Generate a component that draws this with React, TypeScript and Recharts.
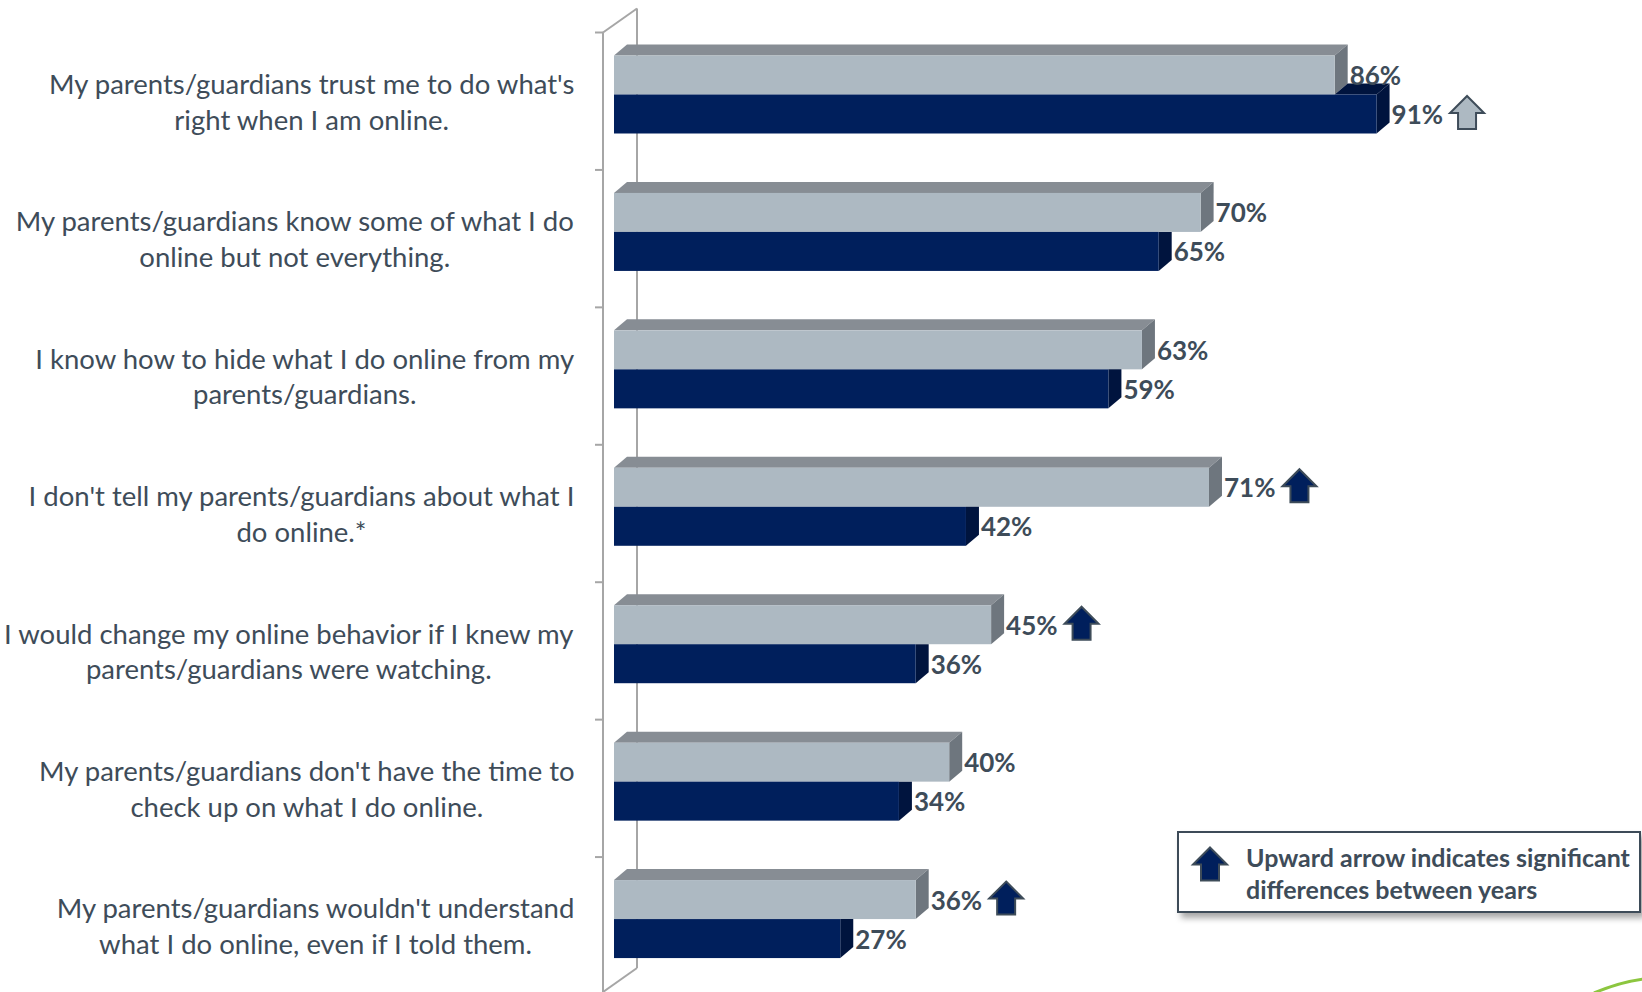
import React from 'react';
import { BarChart, Bar, XAxis, YAxis, LabelList } from 'recharts';

const categories = [
  "My parents/guardians trust me to do what's\nright when I am online.",
  'My parents/guardians know some of what I do\nonline but not everything.',
  'I know how to hide what I do online from my\nparents/guardians.',
  "I don't tell my parents/guardians about what I\ndo online.*",
  'I would change my online behavior if I knew my\nparents/guardians were watching.',
  "My parents/guardians don't have the time to\ncheck up on what I do online.",
  "My parents/guardians wouldn't understand\nwhat I do online, even if I told them.",
];
const greyValues = [86, 70, 63, 71, 45, 40, 36];
const navyValues = [91, 65, 59, 42, 36, 34, 27];
// significance arrows shown next to a value label
const greyArrows = [false, false, false, true, true, false, true];
const navyArrows = [true, false, false, false, false, false, false];

const rows = categories.map((label, i) => ({
  label,
  grey: greyValues[i],
  navy: navyValues[i],
  greyArrow: greyArrows[i],
  navyArrow: navyArrows[i],
}));

const W = 1642;
const H = 992;
const MARGIN = { top: 25.5, right: 190, bottom: 4.5, left: 0 };
const AXIS_W = 614;
const BAND = (H - MARGIN.top - MARGIN.bottom) / categories.length;
const SHIFT = 7; // 3d perspective pushes the bars above the band centre
const DX = 13;
const DY = 11;

const TEXT = '#3e4c59';
const GREY = { front: '#adb9c2', top: '#878d94', side: '#6e767e' };
const NAVY = { front: '#001f5c', top: '#00143e', side: '#00143e' };
const FONT = 'Lato, "Open Sans", sans-serif';
const CAT_SIZE = 27.5;

let ctx: CanvasRenderingContext2D | null = null;
function textWidth(s: string, font: string) {
  if (!ctx) ctx = document.createElement('canvas').getContext('2d');
  if (!ctx) return s.length * 12;
  ctx.font = font;
  return ctx.measureText(s).width;
}

function UpArrow({ x, cy, fill }: { x: number; cy: number; fill: string }) {
  const t = cy - 16.5;
  const pts = [
    [x + 17, t],
    [x + 34, t + 17],
    [x + 26, t + 17],
    [x + 26, t + 33],
    [x + 8, t + 33],
    [x + 8, t + 17],
    [x, t + 17],
  ]
    .map((p) => p.join(','))
    .join(' ');
  return <polygon points={pts} fill={fill} stroke={TEXT} strokeWidth={2} strokeLinejoin="miter" />;
}

function CategoryTick(props: any) {
  const { y, payload } = props;
  const lines: string[] = String(payload.value).split('\n');
  const font = `${CAT_SIZE}px ${FONT}`;
  const maxW = Math.max(...lines.map((l) => textWidth(l, font)));
  const cx = 575 - maxW / 2;
  const cy = y + SHIFT;
  const tickY = cy - BAND / 2;
  return (
    <g>
      <line x1={595} x2={603} y1={tickY} y2={tickY} stroke="#a6a6a6" strokeWidth={2} />
      {lines.map((l, i) => (
        <text
          key={i}
          x={cx}
          y={cy + (i - (lines.length - 1) / 2) * 35.6}
          textAnchor="middle"
          dominantBaseline="central"
          fontFamily={FONT}
          fontSize={CAT_SIZE}
          fill={TEXT}
        >
          {l}
        </text>
      ))}
    </g>
  );
}

function GreyShape(props: any) {
  const { x, y, width, height } = props;
  return (
    <g>
      <polygon
        points={`${x},${y} ${x + DX},${y - DY} ${x + width + DX},${y - DY} ${x + width},${y}`}
        fill={GREY.top}
      />
      <polygon
        points={`${x + width},${y} ${x + width + DX},${y - DY} ${x + width + DX},${y + height - DY} ${x + width},${y + height}`}
        fill={GREY.side}
      />
      <rect x={x} y={y} width={width} height={height} fill={GREY.front} />
    </g>
  );
}

function NavyShape(props: any) {
  const { x, y, width, height, payload } = props;
  const gw = (width * payload.grey) / payload.navy;
  const longer = width > gw;
  return (
    <g>
      {longer && (
        <polygon
          points={`${x + gw},${y} ${x + width},${y} ${x + width + DX},${y - DY} ${x + gw + DX},${y - DY}`}
          fill={NAVY.top}
        />
      )}
      <polygon
        points={
          longer
            ? `${x + width},${y} ${x + width + DX},${y - DY} ${x + width + DX},${y + height - DY} ${x + width},${y + height}`
            : `${x + width},${y} ${x + width + DX},${y} ${x + width + DX},${y + height - DY} ${x + width},${y + height}`
        }
        fill={NAVY.side}
      />
      <rect x={x} y={y} width={width} height={height} fill={NAVY.front} />
    </g>
  );
}

function makeValueLabel(flags: boolean[], arrowFill: string) {
  return function ValueLabel(props: any) {
    const { x, y, width, height, value, index } = props;
    const label = `${value}%`;
    const font = `bold 26px ${FONT}`;
    const lx = x + width + 15;
    const cy = y + height / 2;
    const tw = textWidth(label, font);
    return (
      <g>
        <text
          x={lx}
          y={cy}
          dominantBaseline="central"
          fontFamily={FONT}
          fontWeight="bold"
          fontSize={26}
          fill={TEXT}
        >
          {label}
        </text>
        {flags[index] && <UpArrow x={lx + tw + 7} cy={cy - 1.5} fill={arrowFill} />}
      </g>
    );
  };
}

const GreyLabel = makeValueLabel(greyArrows, NAVY.front);
const NavyLabel = makeValueLabel(navyArrows, GREY.front);

function AxisFrame() {
  const top = MARGIN.top + SHIFT;
  return (
    <svg width={W} height={H} style={{ position: 'absolute', left: 0, top: 0 }}>
      <g stroke="#a6a6a6" strokeWidth={2} fill="none">
        <line x1={603} y1={top} x2={603} y2={H} />
        <line x1={603} y1={top} x2={637} y2={top - 24} />
        <line x1={637} y1={top - 24} x2={637} y2={968} />
        <line x1={637} y1={968} x2={603} y2={992} />
      </g>
    </svg>
  );
}

function Overlay() {
  return (
    <svg width={W} height={H} style={{ position: 'absolute', left: 0, top: 0, pointerEvents: 'none' }}>
      <defs>
        <filter id="shadow" x="-5%" y="-20%" width="115%" height="160%">
          <feDropShadow dx={4} dy={5} stdDeviation={3} floodColor="#000" floodOpacity={0.35} />
        </filter>
      </defs>
      <rect x={1178} y={832} width={462} height={80} fill="#fff" stroke={TEXT} strokeWidth={2} filter="url(#shadow)" />
      <UpArrow x={1193} cy={864} fill={NAVY.front} />
      <text x={1246} y={867} fontFamily={FONT} fontWeight="bold" fontSize={25} fill={TEXT}>
        Upward arrow indicates significant
      </text>
      <text x={1246} y={899} fontFamily={FONT} fontWeight="bold" fontSize={25} fill={TEXT}>
        differences between years
      </text>
      <path d="M1594,993 Q1620,982 1644,979" stroke="#8cc63f" strokeWidth={3} fill="none" />
    </svg>
  );
}

export default function App() {
  return (
    <div style={{ position: 'absolute', left: 0, top: 0, width: W, height: H, overflow: 'hidden', background: '#fff' }}>
      <AxisFrame />
      <div style={{ position: 'absolute', left: 0, top: 0 }}>
        <BarChart
          layout="vertical"
          width={W}
          height={H}
          data={rows}
          margin={MARGIN}
          barCategoryGap={30}
          barGap={0}
        >
          <XAxis type="number" domain={[0, 100]} hide />
          <YAxis
            type="category"
            dataKey="label"
            width={AXIS_W}
            axisLine={false}
            tickLine={false}
            interval={0}
            tick={<CategoryTick />}
          />
          <Bar dataKey="grey" shape={<GreyShape />} isAnimationActive={false}>
            <LabelList dataKey="grey" content={<GreyLabel />} />
          </Bar>
          <Bar dataKey="navy" shape={<NavyShape />} isAnimationActive={false}>
            <LabelList dataKey="navy" content={<NavyLabel />} />
          </Bar>
        </BarChart>
      </div>
      <Overlay />
    </div>
  );
}
